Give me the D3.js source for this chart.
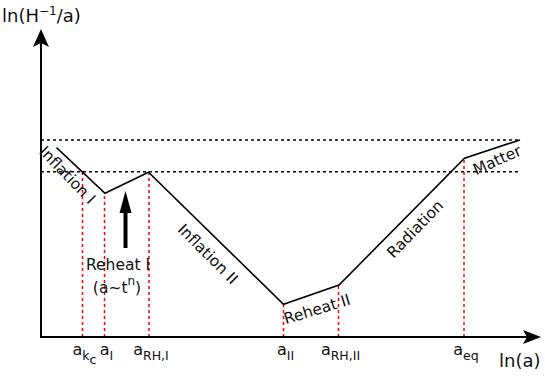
<!DOCTYPE html>
<html>
<head>
<meta charset="utf-8">
<script src="https://cdn.jsdelivr.net/npm/d3@7"></script>
<style>
  body { margin: 0; background: #fff; }
  text { font-family: "DejaVu Sans", sans-serif; fill: #111; }
</style>
</head>
<body>
<div id="chart"></div>
<script>
// ln(a) and ln(H^-1/a) of the break points of the curve (arbitrary units)
var curveX = [0.31, 1.28, 2.15, 4.85, 5.96, 8.47, 9.58];
var curveY = [6.31, 4.79, 5.49, 1.09, 1.73, 5.96, 6.57];

// the two horizontal reference levels
var levels = [6.57, 5.51];
var levelEnd = 9.58;

// ticks on the ln(a) axis: position, sub script, sub-sub script, top of the red guide
var tickX   = [0.83, 1.27, 2.16, 4.85, 5.95, 8.46];
var tickTop = [5.51, 4.80, 5.49, 1.09, 1.73, 5.96];
var tickSub = ["k", "I", "RH,I", "II", "RH,II", "eq"];
var tickSub2 = ["c", "", "", "", "", ""];

// phase labels: name, centre x, centre y, angle
var phaseName  = ["Inflation I", "Inflation II", "Reheat II", "Radiation", "Matter"];
var phaseX     = [0.53, 3.34, 5.52, 7.48, 9.12];
var phaseY     = [5.4, 2.77, 0.93, 3.6, 5.9];
var phaseAngle = [46, 45, -17, -46, -24];

var width = 545, height = 382;
var svg = d3.select("#chart").append("svg")
    .attr("width", width)
    .attr("height", height);

var x = d3.scaleLinear().domain([0, 10]).range([41, 541]);
var y = d3.scaleLinear().domain([0, 10]).range([337, 37]);

// dotted horizontal levels
svg.selectAll(".level").data(levels).enter().append("line")
    .attr("class", "level")
    .attr("x1", x(0)).attr("x2", x(levelEnd))
    .attr("y1", function(d){ return y(d); })
    .attr("y2", function(d){ return y(d); })
    .attr("stroke", "#000")
    .attr("stroke-width", 1.5)
    .attr("stroke-dasharray", "3,3");

// red guides
svg.selectAll(".guide").data(tickX).enter().append("line")
    .attr("class", "guide")
    .attr("x1", function(d){ return x(d); })
    .attr("x2", function(d){ return x(d); })
    .attr("y1", y(0))
    .attr("y2", function(d, i){ return y(tickTop[i]); })
    .attr("stroke", "#ff0000")
    .attr("stroke-width", 1.5)
    .attr("stroke-dasharray", "3,3");

// the curve
var pts = curveX.map(function(d, i){ return [d, curveY[i]]; });
svg.append("path")
    .attr("d", d3.line().x(function(d){ return x(d[0]); }).y(function(d){ return y(d[1]); })(pts))
    .attr("fill", "none")
    .attr("stroke", "#000")
    .attr("stroke-width", 1.6);

// axes with arrow heads
var x0 = x(0), y0 = y(0);
svg.append("line").attr("x1", x0).attr("y1", y0).attr("x2", x0).attr("y2", 40)
    .attr("stroke", "#000").attr("stroke-width", 2);
svg.append("line").attr("x1", x0 - 1).attr("y1", y0).attr("x2", 532).attr("y2", y0)
    .attr("stroke", "#000").attr("stroke-width", 2);
svg.append("path")
    .attr("d", "M" + x0 + ",29 L" + (x0 + 8) + ",47 L" + x0 + ",43 L" + (x0 - 8) + ",47 Z")
    .attr("fill", "#000");
svg.append("path")
    .attr("d", "M541," + y0 + " L523," + (y0 - 7) + " L527," + y0 + " L523," + (y0 + 7) + " Z")
    .attr("fill", "#000");

// axis titles
var yt = svg.append("text").attr("x", 2).attr("y", 22).style("font-size", "18px");
yt.append("tspan").text("ln(H");
yt.append("tspan").attr("dy", -7).style("font-size", "12px").text("\u22121");
yt.append("tspan").attr("dy", 7).text("/a)");

svg.append("text").attr("x", 499).attr("y", 367).style("font-size", "18px").text("ln(a)");

// tick labels
var tl = svg.selectAll(".tick").data(tickX).enter().append("text")
    .attr("class", "tick")
    .attr("text-anchor", "middle")
    .attr("x", function(d){ return x(d) + 2; })
    .attr("y", 355)
    .style("font-size", "16px");
tl.append("tspan").text("a");
tl.append("tspan").attr("dy", 5).style("font-size", "12.5px")
    .text(function(d, i){ return tickSub[i]; });
tl.append("tspan").attr("dy", 4).style("font-size", "12.5px")
    .text(function(d, i){ return tickSub2[i]; });

// phase labels
svg.selectAll(".phase").data(phaseName).enter().append("text")
    .attr("class", "phase")
    .attr("text-anchor", "middle")
    .attr("dy", "0.35em")
    .attr("transform", function(d, i){
        return "translate(" + x(phaseX[i]) + "," + y(phaseY[i]) + ") rotate(" + phaseAngle[i] + ")";
    })
    .style("font-size", "15.5px")
    .text(function(d){ return d; });

// reheat I arrow and label
var ax = x(1.69);
svg.append("rect").attr("x", ax - 2).attr("y", 210).attr("width", 4).attr("height", 38).attr("fill", "#000");
svg.append("path")
    .attr("d", "M" + ax + ",191 L" + (ax + 6) + ",213 L" + (ax - 6) + ",213 Z")
    .attr("fill", "#000");
svg.append("text").attr("x", 118).attr("y", 270).attr("text-anchor", "middle")
    .style("font-size", "15.5px").text("Reheat I");
var rt = svg.append("text").attr("x", 117).attr("y", 293).attr("text-anchor", "middle")
    .style("font-size", "15.5px");
rt.append("tspan").text("(a~t");
rt.append("tspan").attr("dy", -8).style("font-size", "12px").text("n");
rt.append("tspan").attr("dy", 8).text(")");
</script>
</body>
</html>
